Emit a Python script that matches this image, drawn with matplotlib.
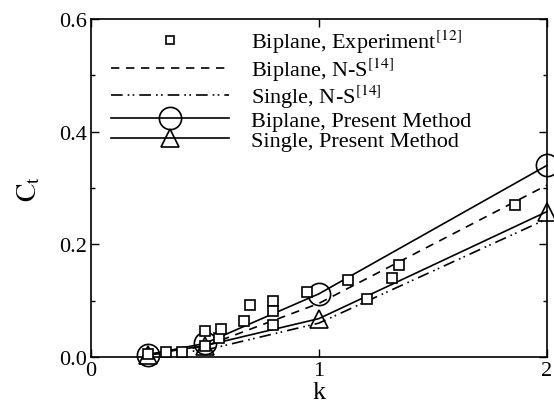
import matplotlib
matplotlib.use("Agg")
import matplotlib.pyplot as plt
from matplotlib.ticker import MultipleLocator

plt.rcParams["font.family"] = ["Liberation Serif", "DejaVu Serif"]
plt.rcParams["mathtext.fontset"] = "stix"

# experimental thrust coefficient, biplane
k_exp = [0.25, 0.33, 0.40, 0.50, 0.50, 0.56, 0.57, 0.67, 0.70, 0.80, 0.80, 0.80,
         0.95, 1.13, 1.21, 1.32, 1.35, 1.86]
ct_exp = [0.005, 0.008, 0.009, 0.020, 0.046, 0.034, 0.050, 0.064, 0.093, 0.100,
          0.081, 0.056, 0.116, 0.137, 0.103, 0.140, 0.163, 0.270]

# N-S reference curves
k_ns = [0.25, 0.5, 1.0, 2.0]
ct_ns_biplane = [0.004, 0.019, 0.095, 0.305]
ct_ns_single = [0.004, 0.012, 0.060, 0.245]

# present method
k_pm = [0.25, 0.5, 1.0, 2.0]
ct_pm_biplane = [0.004, 0.024, 0.112, 0.340]
ct_pm_single = [0.004, 0.020, 0.068, 0.258]

fig = plt.figure(figsize=(5.54, 4.10), dpi=100)
ax = fig.add_axes([0.164, 0.127, 0.823, 0.824])

ax.plot(k_exp, ct_exp, "s", ms=7, mfc="white", mec="black", mew=1.2,
        ls="none", clip_on=False, zorder=4,
        label="Biplane, Experiment$^{[12]}$")
ax.plot(k_ns, ct_ns_biplane, color="black", lw=1.2, ls=(0, (5, 4)),
        label="Biplane, N-S$^{[14]}$")
ax.plot(k_ns, ct_ns_single, color="black", lw=1.2, ls=(0, (7, 3, 1, 2, 1, 3)),
        label="Single, N-S$^{[14]}$")
ax.plot(k_pm, ct_pm_biplane, "-o", color="black", lw=1.2, ms=16, mfc="none",
        mew=1.2, clip_on=False, zorder=3,
        label="Biplane, Present Method")
ax.plot(k_pm, ct_pm_single, "-^", color="black", lw=1.2, ms=13, mfc="none",
        mew=1.2, clip_on=False, zorder=3,
        label="Single, Present Method")

ax.set_xlim(0, 2)
ax.set_ylim(0, 0.6)
ax.set_xticks([0, 1, 2])
ax.set_xticklabels(["0", "1", "2"])
ax.set_yticks([0.0, 0.2, 0.4, 0.6])
ax.set_yticklabels(["0.0", "0.2", "0.4", "0.6"])
ax.yaxis.set_minor_locator(MultipleLocator(0.1))
ax.tick_params(which="both", direction="in", top=True, right=True,
               labelsize=16, width=1.0)
ax.tick_params(which="major", length=6)
ax.tick_params(which="minor", length=3)
ax.tick_params(axis="x", pad=3)
ax.tick_params(axis="y", pad=3)
for s in ax.spines.values():
    s.set_linewidth(1.2)

ax.set_xlabel("k", fontsize=19, labelpad=1)
ax.set_ylabel("$\\mathrm{C_t}$", fontsize=20, labelpad=12)

leg = ax.legend(loc="upper left", bbox_to_anchor=(0.045, 0.975), frameon=False,
                fontsize=16, handlelength=5.3, handletextpad=1.0,
                labelspacing=0.0, borderpad=0.0, borderaxespad=0.0)
leg.legend_handles[0].set_markersize(6)

fig.savefig("out.png", dpi=100)
